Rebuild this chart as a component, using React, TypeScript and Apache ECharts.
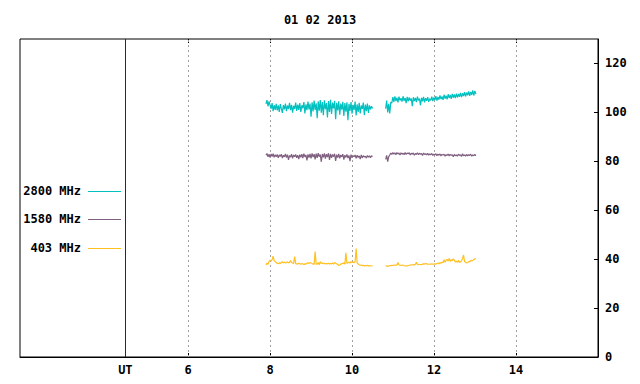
import React, { useEffect, useRef } from "react";
import * as echarts from "echarts";

const titleText = "01 02 2013";
const hourTicks = [6, 8, 10, 12, 14];
const utHour = 4.47;
const xMin = 1.9;
const xMax = 16;
const yMin = 0;
const yMax = 130;
const yInterval = 20;

const seriesNames = ["2800 MHz", "1580 MHz", "403 MHz"];
const seriesColors = ["#00c0c0", "#806080", "#ffc020"];

const stepHours = 0.025;
const seg1Start = 7.9;
const seg2Start = 10.82;
const gapHour = 10.66;

const s2800a = [
  103.5,105,102.5,104.5,103,101.5,103.8,100.5,103,101,
  103.5,100.8,102.9,100.2,103.4,101.5,99.8,103,101.2,103.6,
  100.5,102.8,101.3,103.9,100.9,103.1,99.9,102.7,101.4,104,
  100.6,103.2,101,103.8,100.2,102.9,101.7,104.2,99.6,103.3,
  100.9,104.4,101.2,103.6,98.2,104.1,100.4,104.8,101,103.7,
  97.6,104.5,100.7,105,99.9,104.2,98.8,104.9,101.3,103.8,
  97.9,104.6,100.2,105.1,99.4,104,101.6,104.7,97.2,103.9,
  100.8,104.5,99.1,103.6,101.1,104.3,98.5,103.8,100.3,104.1,
  96.8,103.5,100.6,104.2,99.5,103.1,101,104.4,98.7,103.3,
  100.2,103.9,99.6,102.8,101.4,104,98.9,103.2,100.5,103.6,
  99.8,102.9,101.2,102.5,101.6,
];
const s2800b = [
  101.5,104.8,100,103.5,99.6,104.2,103.8,106.2,104.3,106.5,
  104.6,106,104.1,106.4,104.9,105.8,104.4,106.6,104.7,105.9,
  103.8,106.3,104.5,106.1,104.8,105.7,102.5,106.2,104.6,105.9,
  104.2,106.4,104.9,105.6,102.9,106,104.5,106.3,104.1,105.8,
  104.7,106.2,104.3,105.6,104.9,106.4,104.6,106.1,105,106.6,
  104.8,106.3,105.2,106.9,105.4,106.5,105.1,107.2,105.6,106.8,
  105.3,107.4,105.9,107.1,105.5,107.6,106,107.3,105.8,107.7,
  106.1,107.5,106.4,108,106.2,107.8,106.7,108.3,106.5,108.1,
  107,108.6,106.8,108.4,107.2,109,106.9,108.8,107.5,
];
const s1580a = [
  82.5,83.2,81.8,82.9,81.5,83,82,83.1,81.6,82.7,
  81.9,82.8,81.4,82.6,82,82.9,81.3,82.5,81.8,83,
  81.5,82.7,80.6,82.4,81.7,82.9,81.2,82.6,81.9,82.8,
  81.4,82.5,80.9,82.7,81.6,82.9,81.3,83.1,81.8,82.6,
  80.4,82.8,81.5,83,81.2,83.2,81.7,82.9,80.8,83.1,
  81.4,83.3,81.9,82.8,79.8,83,81.6,83.2,81.1,82.9,
  81.7,83.3,80.6,83,81.4,82.8,81.9,83.1,80.2,82.7,
  81.5,83,81.2,82.6,81.8,82.9,80.7,82.5,81.6,82.8,
  81.3,82.4,80.1,82.7,81.5,82.3,81.9,82.6,81.2,82.5,
  81.6,82.2,80.9,82.6,81.4,82.3,81.8,82.1,81.3,82.4,
  81.7,82.2,81.5,82.3,81.9,
];
const s1580b = [
  80.8,82.4,79.9,81.9,82.6,83.4,82.8,83.6,82.9,83.5,
  82.7,83.6,83,83.4,82.6,83.5,82.9,83.3,82.7,83.6,
  82.8,83.4,83.1,83.5,82.6,83.3,82.9,83.4,82.5,83.2,
  82.8,83.5,82.7,83.3,82.9,83.2,82.4,83.4,82.8,83.1,
  82.6,83.3,82.5,83,82.7,83.2,82.4,82.9,82.6,83.1,
  82.3,82.9,82.5,83,82.2,82.8,82.6,82.9,82.1,82.7,
  82.4,83,82.2,82.8,82.5,82.7,81.9,82.8,82.3,82.6,
  82.1,82.9,82.4,82.7,82,83.1,82.3,82.6,82.1,82.8,
  82.2,82.7,82.4,82.9,82.1,82.6,82.3,82.8,82.2,
];
const s403a = [
  37.6,38.4,37.9,39,39.6,39.2,39.8,41.2,39.4,39,
  38.6,38.3,38.1,38.5,38.2,38.7,38.9,38.5,38.8,38.4,
  38.6,38.9,38.5,38.7,39.4,38.6,38.4,38.3,41,38.2,
  38.1,38,38.3,38.1,37.9,38.2,38,37.8,38.1,38,
  38.3,38.5,38.2,38.6,38.4,38.2,38.1,37.8,43.1,37.9,
  38,38.6,37.7,39,38.2,38.4,38.1,38.3,38,38.2,
  38.1,38.3,38,38.2,38.1,38.4,38,38.6,38.3,38.1,
  37.8,37.4,37.6,37.9,38.3,38.1,38.6,37.9,42.6,38.2,
  38.5,38.8,38.4,39,38.6,38.9,38.5,39.1,44.3,38.4,
  38,37.7,37.5,37.6,37.3,37.5,37.2,37.4,37.3,37.5,
  37.2,37.4,37.3,37.2,37.3,
];
const s403b = [
  37.1,37.3,37,37.2,37.4,37.3,37.5,37.4,37.6,37.5,
  37.6,37.5,38.6,37.6,37.5,37.4,37.6,37.5,37.3,37.2,
  37.3,37.2,37.4,37.5,37.6,37.7,37.6,37.8,37.6,37.9,
  38.7,37.8,37.7,37.9,37.8,37.7,38,38.1,38,38.2,
  38.1,38,37.9,38,37.9,38.1,37.9,38,38.1,37.9,
  38.2,38.4,38.1,38.6,38.3,38.8,38.5,39.8,38.7,39.6,
  39.9,39.2,40.3,39.1,39.8,39.4,40.1,39.6,38.8,39.2,
  38.7,39.5,38.6,38.9,39.3,40.2,41.7,39,38.7,38.5,
  38.6,38.9,39.1,39.3,39.5,39.4,39.8,40.1,40.3,
];

const segmentsA = [s2800a, s1580a, s403a];
const segmentsB = [s2800b, s1580b, s403b];

const FONT = '"DejaVu Sans Mono", "Liberation Mono", monospace';

function toPairs(vals: number[], start: number) {
  return vals.map((v, i) => [Number((start + i * stepHours).toFixed(3)), v]);
}

export default function App() {
  const ref = useRef<HTMLDivElement>(null);
  useEffect(() => {
    if (!ref.current) return;
    const chart = echarts.init(ref.current, undefined, { renderer: "svg" });
    const gridLeft = 20;
    const gridTop = 39;
    const gridRight = 42;
    const gridBottom = 27;

    const series: any[] = seriesNames.map((name, k) => ({
      name,
      type: "line",
      showSymbol: false,
      symbol: "none",
      connectNulls: false,
      lineStyle: { color: seriesColors[k], width: 1.2 },
      itemStyle: { color: seriesColors[k] },
      data: [
        ...toPairs(segmentsA[k], seg1Start),
        [gapHour, "-"],
        ...toPairs(segmentsB[k], seg2Start),
      ],
      z: 3,
    }));
    series[0].markLine = {
      silent: true,
      symbol: ["none", "none"],
      label: { show: false },
      z: 1,
      data: [
        ...hourTicks.map((h) => ({
          xAxis: h,
          lineStyle: { color: "#a0a0a0", type: [2, 3], width: 1 },
        })),
        { xAxis: utHour, lineStyle: { color: "#8b0000", type: "solid", width: 1 } },
      ],
    };

    const legendY = [191, 219, 248];
    const graphic: any[] = [];
    seriesNames.forEach((name, k) => {
      graphic.push({
        type: "text",
        x: 81,
        y: legendY[k],
        style: {
          text: name,
          font: `bold 12px ${FONT}`,
          fill: "#000",
          textAlign: "right",
          textVerticalAlign: "middle",
        },
      });
      graphic.push({
        type: "line",
        shape: { x1: 88, y1: legendY[k] + 0.5, x2: 121, y2: legendY[k] + 0.5 },
        style: { stroke: seriesColors[k], lineWidth: 1 },
      });
    });

    chart.setOption({
      animation: false,
      backgroundColor: "#fff",
      title: {
        text: titleText,
        left: "center",
        top: 9,
        textStyle: { fontFamily: FONT, fontSize: 12, fontWeight: "bold", color: "#000" },
      },
      grid: {
        left: gridLeft,
        top: gridTop,
        right: gridRight,
        bottom: gridBottom,
        show: true,
        borderColor: "#000",
        borderWidth: 1,
        backgroundColor: "transparent",
      },
      xAxis: [
        {
          type: "value",
          min: xMin,
          max: xMax,
          position: "bottom",
          axisLine: { show: true, lineStyle: { color: "#000" } },
          axisTick: {
            show: true,
            inside: true,
            length: 4,
            customValues: hourTicks,
            lineStyle: { color: "#000" },
          },
          axisLabel: {
            show: true,
            customValues: [utHour, ...hourTicks],
            formatter: (v: number) => (Math.abs(v - utHour) < 1e-6 ? "UT" : String(v)),
            fontFamily: FONT,
            fontSize: 12,
            fontWeight: "bold",
            color: "#000",
            margin: 7,
          },
          splitLine: { show: false },
        },
        {
          type: "value",
          min: xMin,
          max: xMax,
          position: "top",
          axisLine: { show: false },
          axisTick: {
            show: true,
            inside: true,
            length: 4,
            customValues: hourTicks,
            lineStyle: { color: "#000" },
          },
          axisLabel: { show: false },
          splitLine: { show: false },
        },
      ],
      yAxis: {
        type: "value",
        position: "right",
        min: yMin,
        max: yMax,
        interval: yInterval,
        axisLine: { show: true, lineStyle: { color: "#000" } },
        axisTick: { show: true, inside: true, length: 4, lineStyle: { color: "#000" } },
        axisLabel: {
          fontFamily: FONT,
          fontSize: 12,
          fontWeight: "bold",
          color: "#000",
          margin: 7,
          showMaxLabel: false,
        },
        splitLine: { show: false },
      },
      graphic,
      series,
    });
    return () => chart.dispose();
  }, []);
  return <div ref={ref} style={{ width: 640, height: 384, position: "absolute", left: 0, top: 0 }} />;
}
